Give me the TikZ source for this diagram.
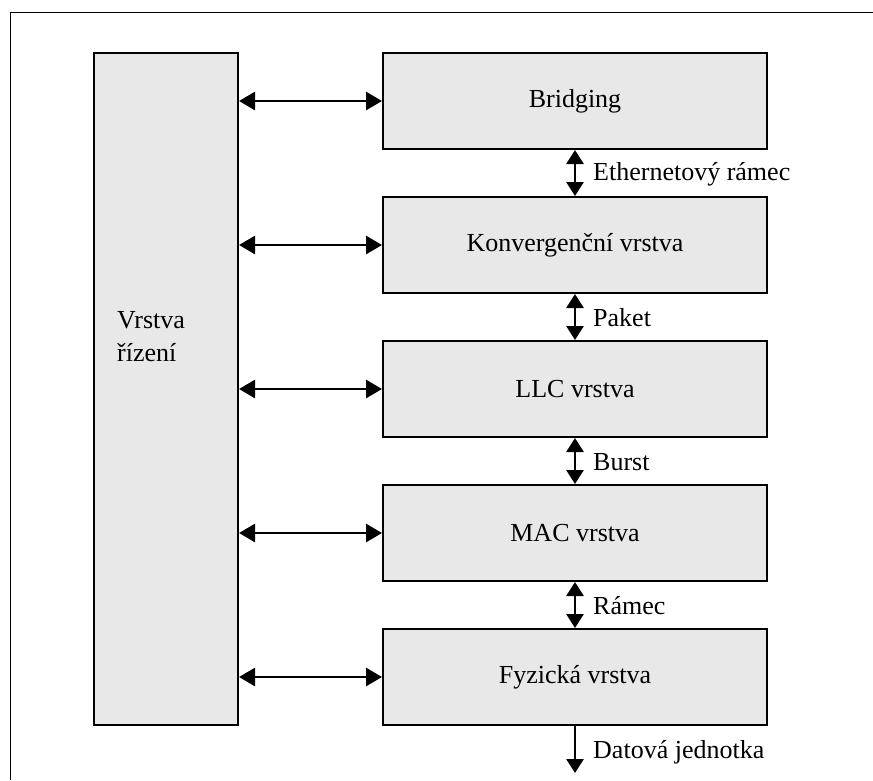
\documentclass[tikz,border=0pt]{standalone}
\usepackage{fontspec}
\setmainfont{Liberation Serif}
\usetikzlibrary{arrows.meta}
\definecolor{boxgray}{RGB}{232,232,232}
\tikzset{
  layer/.style={draw=black, fill=boxgray, line width=2pt, minimum width=384pt,
    minimum height=96pt, inner sep=0pt, font=\fontsize{26}{33}\selectfont},
  ctrlbox/.style={draw=black, fill=boxgray, line width=2pt, minimum width=144pt,
    minimum height=672pt, inner sep=0pt},
  harrow/.style={line width=2.8pt, {Triangle[length=16pt,width=18pt]}-{Triangle[length=16pt,width=18pt]}},
  varrow/.style={line width=2.8pt, {Triangle[length=14pt,width=17pt]}-{Triangle[length=14pt,width=17pt]}},
  downarrow/.style={line width=2.8pt, -{Triangle[length=14pt,width=17pt]}},
  lbl/.style={anchor=west, inner sep=0pt, font=\fontsize{26}{33}\selectfont}
}
\begin{document}
\begin{tikzpicture}[x=1pt,y=-1pt]
  \useasboundingbox (0,0) rectangle (873,780);
  \fill[white] (0,0) rectangle (873,780);
  % outer frame (open to the right and bottom)
  \draw[line width=1pt] (10.5,780) -- (10.5,12) -- (873,12);

  % control layer
  \node[ctrlbox] (ctl) at (166,389) {};
  \node[anchor=west, align=left, inner sep=0pt, font=\fontsize{26}{33}\selectfont]
    (ctltext) at (117,337) {Vrstva\\řízení};

  % protocol stack
  \node[layer] (b1) at (575,101) {Bridging};
  \node[layer] (b2) at (575,245) {Konvergenční vrstva};
  \node[layer] (b3) at (575,389) {LLC vrstva};
  \node[layer] (b4) at (575,533) {MAC vrstva};
  \node[layer] (b5) at (575,677) {Fyzická vrstva};

  % links to the control layer
  \foreach \b in {b1,b2,b3,b4,b5}
    \draw[harrow] (ctl.east |- \b.west) -- (\b.west);

  % data units between layers
  \draw[varrow] (b1.south) -- (b2.north);
  \draw[varrow] (b2.south) -- (b3.north);
  \draw[varrow] (b3.south) -- (b4.north);
  \draw[varrow] (b4.south) -- (b5.north);
  \coordinate (out) at (575,773);
  \draw[downarrow] (b5.south) -- (out);

  \node[lbl] (l1) at (593,174) {Ethernetový rámec};
  \node[lbl] (l2) at (593,318) {Paket};
  \node[lbl] (l3) at (593,462) {Burst};
  \node[lbl] (l4) at (593,606) {Rámec};
  \node[lbl] (l5) at (593,752) {Datová jednotka};
\end{tikzpicture}
\end{document}
